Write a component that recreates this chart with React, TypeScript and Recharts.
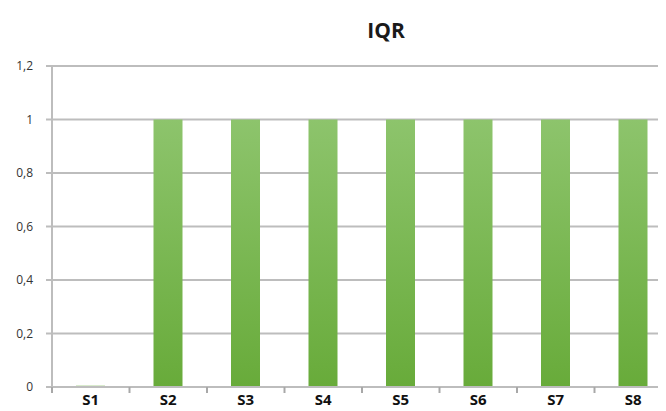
import { BarChart, Bar, XAxis, YAxis, CartesianGrid } from "recharts";

const samples = ["S1", "S2", "S3", "S4", "S5", "S6", "S7", "S8"];
const iqrValues = [0.005, 1, 1, 1, 1, 1, 1, 1];
const yTicks = [0, 0.2, 0.4, 0.6, 0.8, 1, 1.2];

const chartData = samples.map((name, i) => ({ name, iqr: iqrValues[i] }));

const formatTick = (v: number) => String(v).replace(".", ",");

const CATEGORY_STEP = 620 / samples.length;

// category label plus a small tick mark on the boundary to its left
const SampleTick = (props: any) => {
  const { x, y, payload } = props;
  const bx = x - CATEGORY_STEP / 2;
  return (
    <g>
      <path d={`M${bx},${y - 6}V${y}`} stroke="#a8a8a8" strokeWidth={2} fill="none" />
      <text x={x} y={y + 12} textAnchor="middle" fill="#111" fontSize={15} fontWeight={700}>
        {payload.value}
      </text>
    </g>
  );
};

export default function App() {
  return (
    <div style={{ width: 658, height: 403, overflow: "hidden", fontFamily: "'Open Sans', sans-serif" }}>
      <BarChart
        width={690}
        height={403}
        data={chartData}
        margin={{ top: 58, right: 26, bottom: 0, left: 0 }}
      >
        <defs>
          <linearGradient id="iqrGreen" x1="0" y1="0" x2="0" y2="1">
            <stop offset="0%" stopColor="#8dc46c" />
            <stop offset="100%" stopColor="#68ab3a" />
          </linearGradient>
        </defs>
        <text
          x={378}
          y={30}
          textAnchor="middle"
          style={{ fontSize: 21, fontWeight: 700, fill: "#1a1a1a" }}
        >
          IQR
        </text>
        <CartesianGrid vertical={false} stroke="#bdbdbd" strokeWidth={2} />
        <XAxis
          dataKey="name"
          stroke="#bdbdbd"
          strokeWidth={2}
          tickLine={{ stroke: "none" }}
          tickSize={6}
          tickMargin={0}
          height={24}
          tick={SampleTick}
        />
        <YAxis
          width={44}
          domain={[0, 1.2]}
          ticks={yTicks}
          tickFormatter={formatTick}
          stroke="#bdbdbd"
          strokeWidth={2}
          tickSize={6}
          tickMargin={13}
          tick={{ fill: "#333", fontSize: 12 }}
        />
        <Bar dataKey="iqr" barSize={29} fill="url(#iqrGreen)" isAnimationActive={false} />
      </BarChart>
    </div>
  );
}
